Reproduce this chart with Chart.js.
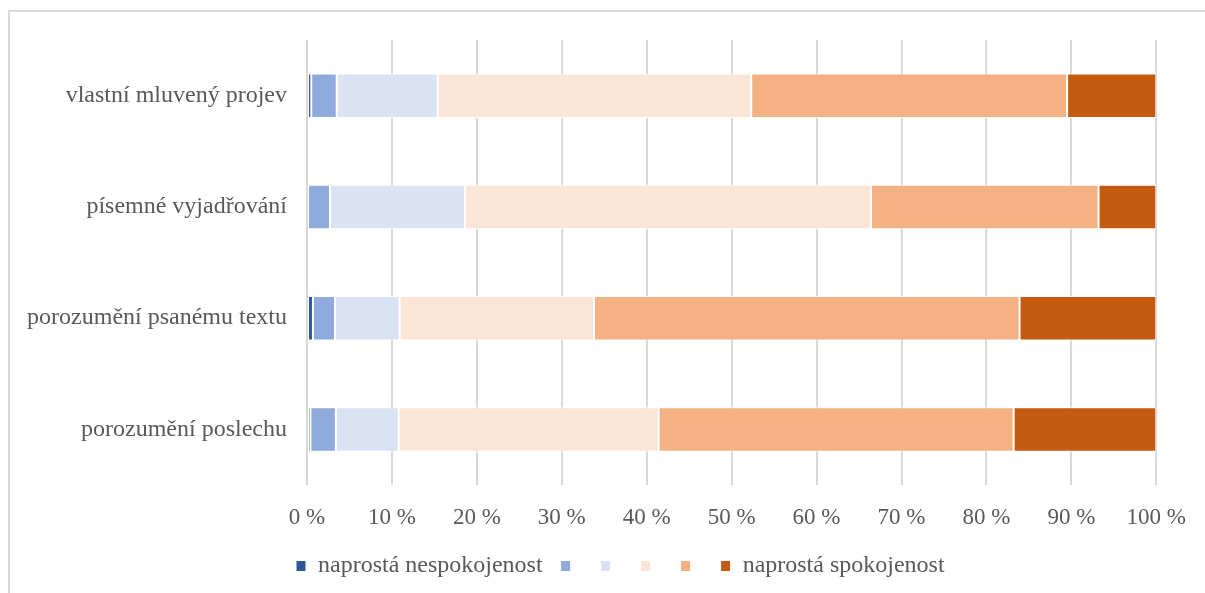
<!DOCTYPE html>
<html>
<head>
<meta charset="utf-8">
<script src="https://cdn.jsdelivr.net/npm/chart.js@4"></script>
<style>
  html, body { margin: 0; padding: 0; background: #fff; }
  #wrap { position: relative; width: 1205px; height: 593px; overflow: hidden; }
  #frame { position: absolute; left: 8px; top: 10px; width: 1300px; height: 700px;
           border-left: 2px solid #d9d9d9; border-top: 2px solid #d9d9d9; }
  canvas { position: absolute; left: 0; top: 0; }
</style>
</head>
<body>
<div id="wrap">
  <div id="frame"></div>
  <canvas id="chart" width="1205" height="593"></canvas>
</div>
<script>
const categories = ['vlastní mluvený projev', 'písemné vyjadřování', 'porozumění psanému textu', 'porozumění poslechu'];
const seriesNames = ['naprostá nespokojenost', '', '', '', '', 'naprostá spokojenost'];
const s1 = [0.5, 0, 0.7, 0.4];
const s2 = [3.0, 2.7, 2.6, 3.0];
const s3 = [11.9, 15.9, 7.6, 7.4];
const s4 = [36.9, 47.8, 22.9, 30.6];
const s5 = [37.2, 26.8, 50.1, 41.8];
const s6 = [10.5, 6.8, 16.1, 16.8];
const tickLabels = ['0 %', '10 %', '20 %', '30 %', '40 %', '50 %', '60 %', '70 %', '80 %', '90 %', '100 %'];

const colors = ['#2F5597', '#8FAADC', '#DAE3F3', '#FBE5D6', '#F4B183', '#C55A11'];
const allSeries = [s1, s2, s3, s4, s5, s6];

const family = '"Liberation Serif", "Times New Roman", serif';
const textColor = '#595959';

// legend starts under the y labels, not centred (like the original)
const shiftLegend = {
    id: 'shiftLegend',
    afterLayout(chart) {
        chart.legend.left = 296 - 18;
    }
};

const ctx = document.getElementById('chart').getContext('2d');
new Chart(ctx, {
    type: 'bar',
    data: {
        labels: categories,
        datasets: allSeries.map((d, i) => ({
            label: seriesNames[i],
            data: d,
            backgroundColor: colors[i],
            borderColor: '#ffffff',
            borderWidth: 1,
            borderSkipped: false,
            barPercentage: 0.4,
            categoryPercentage: 1
        }))
    },
    options: {
        indexAxis: 'y',
        responsive: false,
        animation: false,
        layout: {
            padding: { left: 0, right: 45, top: 40, bottom: 5 }
        },
        scales: {
            x: {
                stacked: true,
                min: 0,
                max: 100,
                border: { display: false },
                grid: { color: '#d9d9d9', lineWidth: 2, drawTicks: false },
                ticks: {
                    stepSize: 10,
                    padding: 19,
                    color: textColor,
                    font: { family: family, size: 23 },
                    callback: (v, i) => tickLabels[i]
                },
                afterFit: scale => { scale.height = 51; }
            },
            y: {
                stacked: true,
                border: { display: false },
                grid: { display: false },
                ticks: { padding: 12, color: textColor, font: { family: family, size: 24 } },
                afterFit: scale => { scale.width = 307; }
            }
        },
        plugins: {
            tooltip: { enabled: false },
            legend: {
                position: 'bottom',
                align: 'start',
                labels: {
                    boxWidth: 10,
                    boxHeight: 11,
                    padding: 18,
                    color: textColor,
                    font: { family: family, size: 24 }
                }
            }
        }
    },
    plugins: [shiftLegend]
});
</script>
</body>
</html>
